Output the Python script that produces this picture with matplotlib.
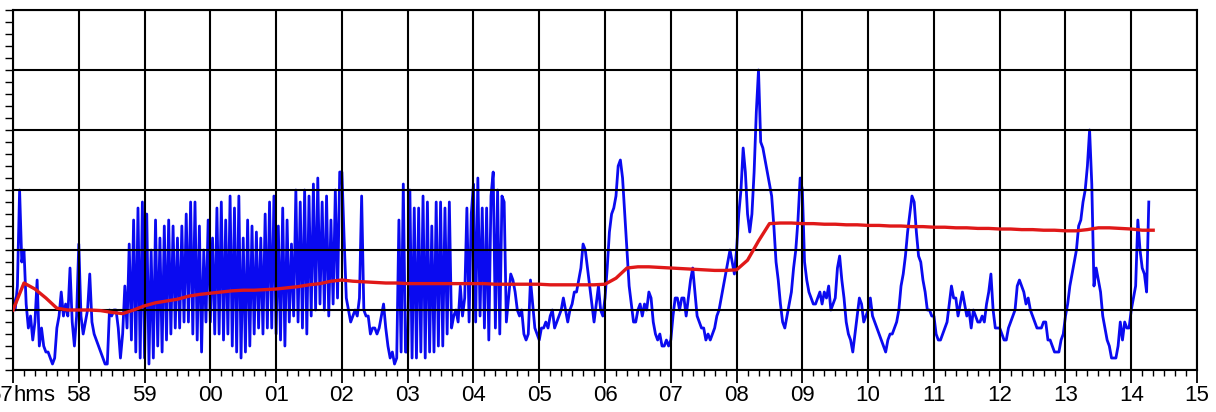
"""
청색 = 원신호(2초 간격 샘플), 적색 = 이동 평균(10초 간격).
가로축은 57분부터 15분까지(분 눈금), 세로축은 눈금값 없는 임의 단위.
"""

import matplotlib
matplotlib.use("Agg")
import matplotlib.pyplot as plt
import numpy as np
from matplotlib.ticker import MultipleLocator

plt.rcParams['font.family'] = ['Liberation Sans', 'DejaVu Sans']

BLUE_DT = 2      # 초
RED_DT = 10      # 초

# 원신호 (한 줄 = 1분, 30 샘플)
blue = [
    12, 10, 14, 30, 18, 20, 11, 7, 9, 5, 8, 15, 4, 7, 4, 3, 3, 2, 1, 2, 7, 9, 13, 9, 11, 9, 17, 8, 4, 9,
    21, 9, 6, 8, 10, 16, 8, 6, 5, 4, 3, 2, 1, 1, 10, 9, 10, 10, 7, 2, 6, 14, 7, 21, 5, 25, 3, 27, 2, 28,
    2, 26, 1, 20, 2, 25, 4, 22, 3, 24, 5, 25, 6, 24, 7, 22, 7, 24, 8, 26, 8, 28, 6, 28, 5, 24, 3, 20, 8, 25,
    8, 22, 6, 27, 6, 28, 5, 25, 6, 29, 4, 27, 3, 29, 2, 22, 3, 25, 4, 24, 6, 23, 7, 22, 6, 26, 7, 28, 7, 29,
    6, 24, 5, 27, 4, 25, 8, 21, 9, 30, 8, 28, 7, 30, 6, 29, 9, 31, 10, 32, 11, 28, 10, 29, 9, 25, 11, 30, 12, 33,
    33, 22, 12, 10, 8, 9, 10, 9, 12, 29, 10, 9, 9, 6, 7, 7, 6, 7, 9, 11, 7, 4, 2, 3, 1, 2, 25, 3, 31, 3,
    3, 30, 2, 27, 2, 27, 3, 29, 2, 28, 3, 24, 3, 28, 4, 28, 4, 27, 6, 28, 7, 9, 10, 8, 14, 9, 12, 27, 8, 26,
    31, 8, 32, 9, 27, 7, 27, 5, 29, 33, 7, 30, 6, 29, 28, 8, 12, 16, 15, 13, 10, 9, 10, 6, 5, 6, 15, 11, 7, 6,
    5, 7, 7, 8, 7, 9, 10, 7, 8, 9, 10, 12, 10, 8, 10, 11, 13, 13, 15, 17, 21, 20, 17, 14, 11, 8, 11, 14, 10, 9,
    12, 17, 23, 26, 27, 29, 34, 35, 32, 26, 20, 14, 11, 8, 8, 10, 11, 9, 11, 10, 13, 12, 8, 6, 5, 6, 4, 4, 5, 4,
    5, 9, 12, 12, 10, 12, 12, 9, 12, 15, 17, 13, 9, 8, 7, 7, 5, 6, 5, 6, 7, 9, 10, 12, 14, 16, 18, 20, 18, 16,
    20, 26, 30, 37, 33, 26, 23, 26, 33, 43, 50, 38, 37, 35, 33, 31, 29, 24, 18, 15, 11, 8, 7, 9, 11, 13, 17, 20, 25, 32,
    30, 18, 15, 13, 12, 11, 11, 12, 13, 11, 13, 12, 14, 10, 11, 12, 17, 19, 15, 12, 8, 6, 5, 3, 6, 9, 12, 11, 8, 9,
    10, 12, 9, 8, 7, 6, 5, 4, 3, 5, 6, 6, 7, 8, 10, 14, 16, 19, 23, 26, 29, 28, 23, 19, 18, 15, 13, 10, 10, 9,
    9, 6, 5, 5, 6, 7, 8, 11, 14, 12, 12, 9, 11, 13, 11, 9, 10, 7, 10, 9, 8, 8, 9, 8, 11, 13, 16, 10, 7, 7,
    7, 6, 5, 5, 7, 8, 9, 10, 14, 15, 14, 13, 11, 12, 10, 9, 8, 7, 7, 7, 8, 8, 5, 5, 4, 3, 3, 3, 5, 6,
    9, 11, 14, 16, 18, 20, 24, 25, 28, 30, 34, 40, 31, 14, 17, 15, 13, 9, 7, 5, 4, 2, 2, 2, 4, 8, 5, 8, 7, 7,
    10, 12, 14, 25, 20, 17, 16, 13, 28,
]

# 이동 평균 (한 줄 = 1분, 6 샘플)
red = [
    10, 14.5, 13.5, 12, 10.3, 10,
    10, 10, 9.9, 9.6, 9.4, 10,
    10.7, 11.2, 11.5, 11.8, 12.3, 12.6,
    12.8, 13, 13.2, 13.3, 13.3, 13.4,
    13.5, 13.7, 13.9, 14.2, 14.4, 14.8,
    15, 14.8, 14.7, 14.6, 14.5, 14.5,
    14.4, 14.4, 14.4, 14.4, 14.4, 14.4,
    14.4, 14.4, 14.3, 14.3, 14.3, 14.3,
    14.3, 14.2, 14.2, 14.2, 14.2, 14.2,
    14.3, 15.3, 17, 17.2, 17.2, 17.1,
    17, 16.9, 16.8, 16.7, 16.6, 16.6,
    16.7, 18.3, 21.5, 24.4, 24.5, 24.5,
    24.4, 24.4, 24.3, 24.3, 24.2, 24.2,
    24.1, 24.1, 24, 24, 23.9, 23.9,
    23.8, 23.8, 23.7, 23.7, 23.6, 23.6,
    23.5, 23.5, 23.4, 23.4, 23.3, 23.3,
    23.2, 23.2, 23.4, 23.7, 23.7, 23.6,
    23.5, 23.3, 23.3,
]

TICK_LABELS = ["57", "58", "59", "00", "01", "02", "03", "04", "05", "06",
               "07", "08", "09", "10", "11", "12", "13", "14", "15"]
UNIT = "hms"
FS = 16

fig = plt.figure(figsize=(12.16, 4.12), dpi=100)
ax = fig.add_axes([0.0107, 0.1019, 0.9737, 0.8738])

t_blue = np.arange(len(blue)) * BLUE_DT
t_red = np.arange(len(red)) * RED_DT
ax.plot(t_blue, blue, color="#0a0af0", lw=2.0, zorder=2)
ax.plot(t_red, red, color="#e01818", lw=2.4, zorder=3)

ax.set_xlim(0, 60 * (len(TICK_LABELS) - 1))
ax.set_ylim(0, 60)

# 눈금: 분 단위 큰 눈금, 10초 작은 눈금
ax.set_xticks(np.arange(len(TICK_LABELS)) * 60, [""] + TICK_LABELS[1:])
ax.xaxis.set_minor_locator(MultipleLocator(10))
ax.yaxis.set_major_locator(MultipleLocator(10))
ax.yaxis.set_minor_locator(MultipleLocator(2))

ax.tick_params(axis="x", which="major", direction="out", length=9.5, width=1.3,
               pad=1, labelsize=FS, colors="black")
ax.tick_params(axis="x", which="minor", direction="out", length=4.5, width=1.0)
ax.tick_params(axis="y", which="both", direction="out", length=6, width=1.0,
               labelleft=False)

ax.grid(which="major", color="black", lw=1.5)
ax.set_axisbelow(False)
for s in ax.spines.values():
    s.set_linewidth(1.5)
    s.set_color("black")

# 첫 눈금: "57" 은 왼쪽으로, 단위 "hms" 는 오른쪽으로
off = -(9.5 + 1.0)
ax.annotate(TICK_LABELS[0], xy=(0, 0), xycoords=("data", "axes fraction"),
            xytext=(0, off), textcoords="offset points", ha="right", va="top",
            fontsize=FS)
ax.annotate(UNIT, xy=(0, 0), xycoords=("data", "axes fraction"),
            xytext=(0.5, off), textcoords="offset points", ha="left", va="top",
            fontsize=FS)

fig.savefig("out.png", dpi=100)
